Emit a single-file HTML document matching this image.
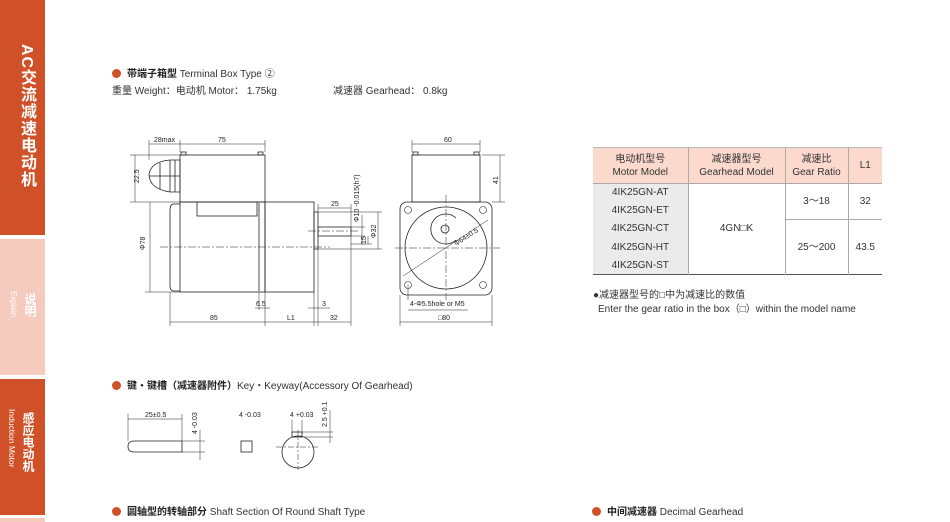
<!DOCTYPE html>
<html><head><meta charset="utf-8"><style>
*{margin:0;padding:0;box-sizing:border-box}
body{width:950px;height:522px;background:#fff;position:relative;overflow:hidden;font-family:"Liberation Sans","Noto Sans CJK SC",sans-serif;color:#333}
.sb{position:absolute;left:0;width:45px}
.vt{position:absolute;writing-mode:vertical-rl;color:#fff;font-weight:bold}
.t{position:absolute;font-size:10px;white-space:nowrap;color:#333}
.h{font-weight:bold;color:#222}
.dot{display:inline-block;width:9px;height:9px;border-radius:50%;background:#d05128;margin-right:6px;vertical-align:-1px}
table{border-collapse:collapse;position:absolute;left:593px;top:147px;width:289px;font-size:10px;color:#333;text-align:center}
td{border:1px solid #aaa;border-top:none;border-bottom:none;padding:0;line-height:13px}
td:first-child{border-left:none}td:last-child{border-right:none}
.hd td{background:#fbd9cc;height:36px;border-top:1px solid #bbb;border-bottom:1px solid #aaa}
.r td{height:18.2px}
.g{background:#ebebeb}
</style></head><body>
<div class="sb" style="top:0;height:235px;background:#d05128"></div>
<div class="sb" style="top:239px;height:136px;background:#f4cbbd"></div>
<div class="sb" style="top:379px;height:136px;background:#d05128"></div>
<div class="sb" style="top:518px;height:4px;background:#f4cbbd"></div>
<div class="vt" style="left:14px;top:44px;font-size:16px;letter-spacing:1px">AC交流减速电动机</div>
<div class="vt" style="left:22px;top:293px;font-size:12px">说明</div>
<div class="vt" style="left:9px;top:291px;font-size:8px;font-weight:normal">Explain</div>
<div class="vt" style="left:20px;top:412px;font-size:12px">感应电动机</div>
<div class="vt" style="left:7px;top:409px;font-size:8.5px;font-weight:normal">Induction Motor</div>

<div class="t" style="left:112px;top:65px"><span class="dot"></span><span class="h">带端子箱型</span> Terminal Box Type ②</div>
<div class="t" style="left:112px;top:82px">重量 Weight：电动机 Motor： 1.75kg</div>
<div class="t" style="left:333px;top:82px">减速器 Gearhead： 0.8kg</div>

<svg style="position:absolute;left:0;top:0" width="950" height="522" font-family="Liberation Sans" font-size="7" fill="none" stroke="#222" stroke-width="0.8">
<rect x="180" y="155" width="85" height="47"/>
<rect x="181" y="152" width="5" height="3"/><rect x="258" y="152" width="5" height="3"/>
<path d="M180 160 L170 160 Q150 162 149 175 Q150 189 170 192 L180 192 Z"/>
<line x1="170" y1="160" x2="170" y2="192"/><line x1="160" y1="163" x2="160" y2="189"/><line x1="175" y1="160" x2="175" y2="192"/><line x1="149" y1="176" x2="180" y2="176"/>
<rect x="180" y="202" width="85" height="90"/>
<path d="M180 204 L173 204 Q170 205 170 210 L170 286 Q170 290 173 291 L180 291"/>
<rect x="197" y="202" width="60" height="14"/>
<line x1="259" y1="203" x2="259" y2="291"/>
<rect x="265" y="202" width="49" height="90"/>
<rect x="314" y="212" width="4" height="37"/>
<rect x="318" y="227" width="33" height="9"/>
<g stroke-dasharray="8 2 2 2" stroke-width="0.5"><line x1="160" y1="247" x2="330" y2="247"/><line x1="308" y1="231" x2="358" y2="231"/><line x1="395" y1="248" x2="500" y2="248"/><line x1="446" y1="195" x2="446" y2="300"/></g>
<g stroke-width="0.5">
<line x1="149" y1="140" x2="149" y2="160"/><line x1="180" y1="140" x2="180" y2="152"/><line x1="265" y1="140" x2="265" y2="152"/>
<line x1="149" y1="144" x2="265" y2="144"/>
<line x1="130" y1="155" x2="180" y2="155"/><line x1="130" y1="202" x2="180" y2="202"/><line x1="135" y1="155" x2="135" y2="202"/>
<line x1="145" y1="292" x2="180" y2="292"/><line x1="150" y1="202" x2="150" y2="292"/>
<line x1="170" y1="292" x2="170" y2="326"/><line x1="265" y1="292" x2="265" y2="326"/><line x1="314" y1="292" x2="314" y2="326"/><line x1="351" y1="236" x2="351" y2="326"/><line x1="318" y1="249" x2="318" y2="326"/>
<line x1="170" y1="322" x2="351" y2="322"/>
<line x1="259" y1="292" x2="259" y2="310"/><line x1="255" y1="308" x2="270" y2="308"/>
<line x1="308" y1="308" x2="330" y2="308"/>
<line x1="318" y1="204" x2="318" y2="212"/><line x1="318" y1="208" x2="351" y2="208"/><line x1="351" y1="204" x2="351" y2="227"/>
<line x1="351" y1="227" x2="365" y2="227"/><line x1="351" y1="236" x2="365" y2="236"/><line x1="362" y1="215" x2="362" y2="245"/>
<line x1="318" y1="212" x2="382" y2="212"/><line x1="318" y1="249" x2="382" y2="249"/><line x1="378" y1="212" x2="378" y2="249"/>
<line x1="351" y1="244" x2="372" y2="244"/><line x1="368" y1="236" x2="368" y2="244"/>
<line x1="412" y1="140" x2="412" y2="152"/><line x1="480" y1="140" x2="480" y2="152"/><line x1="412" y1="144" x2="480" y2="144"/>
<line x1="482" y1="155" x2="505" y2="155"/><line x1="492" y1="202" x2="505" y2="202"/><line x1="500" y1="155" x2="500" y2="202"/>
<line x1="400" y1="295" x2="400" y2="326"/><line x1="492" y1="295" x2="492" y2="326"/><line x1="400" y1="322" x2="492" y2="322"/>
<line x1="403" y1="276" x2="488" y2="220"/>
<line x1="408" y1="285" x2="408" y2="300"/><line x1="408" y1="310" x2="468" y2="310"/>
</g>
<rect x="412" y="155" width="68" height="47"/>
<rect x="413" y="152" width="5" height="3"/><rect x="474" y="152" width="5" height="3"/>
<rect x="400" y="202" width="92" height="93" rx="7"/>
<circle cx="446" cy="248" r="41"/>
<path d="M456 218 A15 15 0 1 0 456 240"/>
<circle cx="445" cy="229" r="4"/>
<g stroke-width="0.6"><circle cx="408" cy="210" r="3.5"/><circle cx="483" cy="210" r="3.5"/><circle cx="408" cy="285" r="3.5"/><circle cx="483" cy="285" r="3.5"/></g>
<path d="M182 441 L134 441 Q128 441 128 446.5 Q128 452 134 452 L182 452 Z"/>
<rect x="241" y="441" width="11" height="11"/>
<circle cx="298" cy="452" r="16"/>
<rect x="292" y="432" width="10" height="5"/>
<g stroke-width="0.5">
<line x1="128" y1="414" x2="128" y2="441"/><line x1="182" y1="414" x2="182" y2="441"/><line x1="128" y1="419" x2="182" y2="419"/>
<line x1="182" y1="441" x2="205" y2="441"/><line x1="182" y1="452" x2="205" y2="452"/><line x1="200" y1="430" x2="200" y2="460"/>
<line x1="302" y1="432" x2="333" y2="432"/><line x1="302" y1="437" x2="333" y2="437"/><line x1="330" y1="410" x2="330" y2="443"/>
<line x1="292" y1="420" x2="292" y2="432"/><line x1="302" y1="420" x2="302" y2="432"/>
<g stroke-dasharray="6 2 2 2"><line x1="276" y1="447" x2="318" y2="447"/><line x1="298" y1="430" x2="298" y2="470"/></g>
</g>
<g fill="#222" stroke="none" font-size="7">
<text x="154" y="142">28max</text><text x="218" y="142">75</text>
<text x="140" y="196" transform="rotate(-90 133 190)">22.5</text>
<text x="210" y="320">85</text><text x="287" y="320">L1</text><text x="330" y="320">32</text>
<text x="256" y="306">6.5</text><text x="322" y="306">3</text>
<text x="331" y="206">25</text>
<text x="444" y="142">60</text><text x="438" y="320">□80</text>
<text x="410" y="306">4-Φ5.5hole or M5</text>
<text x="145" y="250" transform="rotate(-90 145 250)">Φ78</text>
<text x="359" y="222" transform="rotate(-90 359 222)">Φ10 -0.015(h7)</text>
<text x="376" y="238" transform="rotate(-90 376 238)">Φ32</text>
<text x="366" y="244" transform="rotate(-90 366 244)">15</text>
<text x="498" y="184" transform="rotate(-90 498 184)">41</text>
<text x="456" y="246" transform="rotate(-33 456 246)">Φ64±0.5</text>
<text x="145" y="417">25±0.5</text>
<text x="197" y="434" transform="rotate(-90 197 434)">4 -0.03</text>
<text x="239" y="417">4 -0.03</text>
<text x="290" y="417">4 +0.03</text>
<text x="327" y="427" transform="rotate(-90 327 427)">2.5 +0.1</text>
</g>
</svg>

<table>
<tr class="hd"><td style="width:95px">电动机型号<br>Motor Model</td><td style="width:97px">减速器型号<br>Gearhead Model</td><td style="width:63px">减速比<br>Gear Ratio</td><td>L1</td></tr>
<tr class="r"><td class="g">4IK25GN-AT</td><td rowspan="5">4GN□K</td><td rowspan="2" style="border-bottom:1px solid #aaa">3～18</td><td rowspan="2" style="border-bottom:1px solid #aaa">32</td></tr>
<tr class="r"><td class="g">4IK25GN-ET</td></tr>
<tr class="r"><td class="g">4IK25GN-CT</td><td rowspan="3">25～200</td><td rowspan="3">43.5</td></tr>
<tr class="r"><td class="g">4IK25GN-HT</td></tr>
<tr class="r" style="border-bottom:1.5px solid #555"><td class="g">4IK25GN-ST</td></tr>
</table>
<div class="t" style="left:593px;top:286px">●减速器型号的□中为减速比的数值</div>
<div class="t" style="left:598px;top:300px">Enter the gear ratio in the box（□）within the model name</div>

<div class="t" style="left:112px;top:377px"><span class="dot"></span><span class="h">键・键槽（减速器附件）</span>Key・Keyway(Accessory Of Gearhead)</div>
<div class="t" style="left:112px;top:503px"><span class="dot"></span><span class="h">圆轴型的转轴部分</span> Shaft Section Of Round Shaft Type</div>
<div class="t" style="left:592px;top:503px"><span class="dot"></span><span class="h">中间减速器</span> Decimal Gearhead</div>
</body></html>
